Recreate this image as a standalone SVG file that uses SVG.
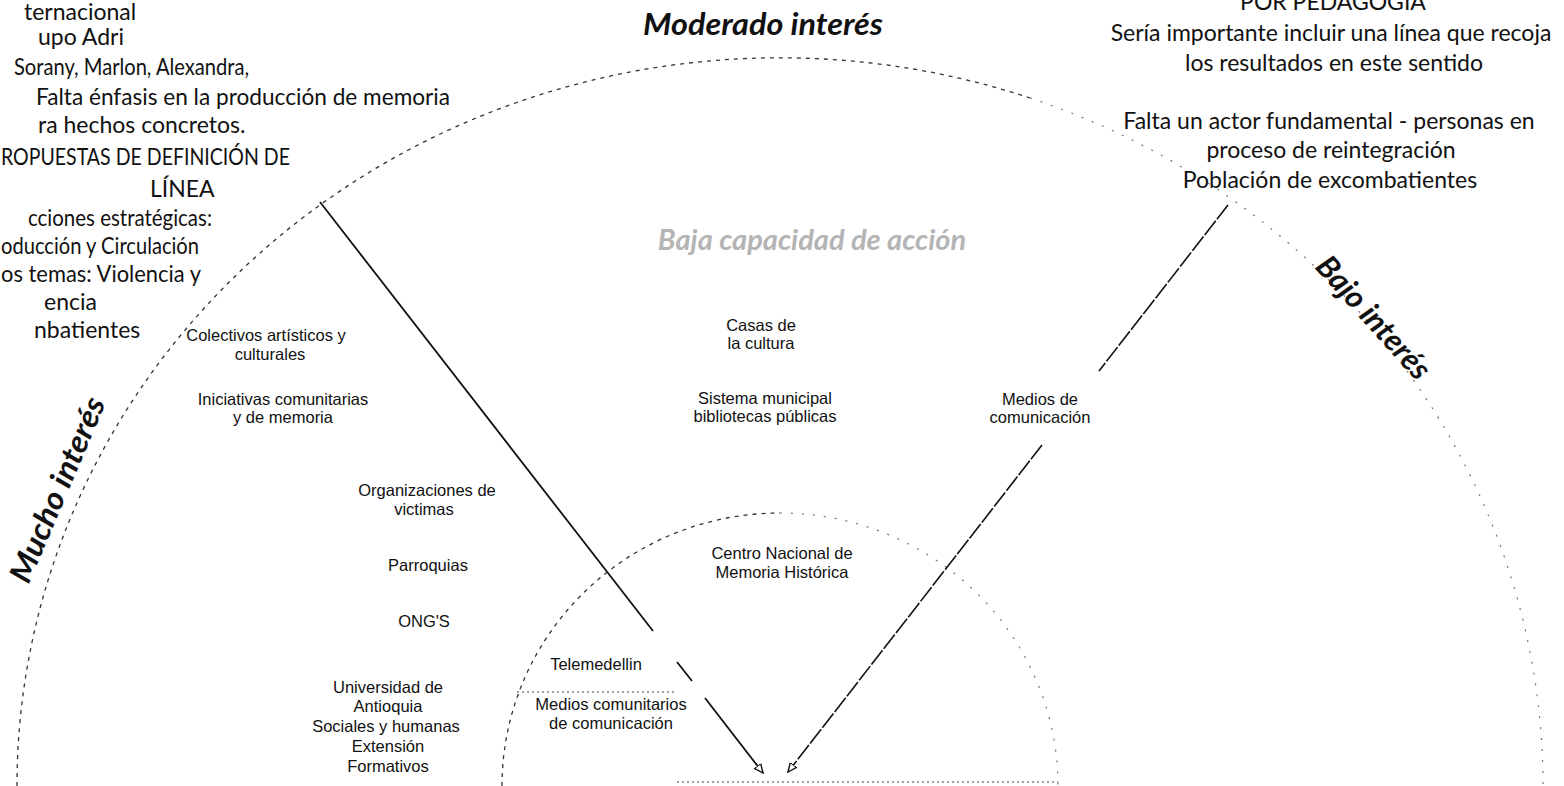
<svg xmlns="http://www.w3.org/2000/svg" width="1564" height="786" viewBox="0 0 1564 786">
<style>
.body{font-family:Lato,"Liberation Sans",sans-serif;font-size:23px;fill:#111}
.bodyc{font-family:Lato,"Liberation Sans",sans-serif;font-size:23px;fill:#111;text-anchor:middle}
.lbl{font-family:"Liberation Sans",Arial,sans-serif;font-size:16.5px;fill:#111;text-anchor:middle}
.axis{font-family:Lato,"Open Sans",sans-serif;font-size:31px;font-weight:bold;font-style:italic;fill:#111;text-anchor:middle}
.faint{font-family:Lato,"Open Sans",sans-serif;font-size:29px;font-weight:bold;font-style:italic;fill:#b4b4b4;text-anchor:middle}
.arc{fill:none;stroke:#333;stroke-width:1.3;stroke-dasharray:4 5}
.arcl{fill:none;stroke:#777;stroke-width:1.2;stroke-dasharray:2 9}
.dot{fill:none;stroke:#444;stroke-width:1.2;stroke-dasharray:2 3}
.solid{fill:none;stroke:#111;stroke-width:1.8}
.dash{fill:none;stroke:#111;stroke-width:1.6;stroke-dasharray:18 2}
</style>
<defs>
<marker id="ah" viewBox="0 0 10 10" refX="9" refY="5" markerWidth="10" markerHeight="10" markerUnits="userSpaceOnUse" orient="auto">
<path d="M0,1 L9,5 L0,9 z" fill="#fff" stroke="#111" stroke-width="1.4"/>
</marker>
</defs>
<rect width="1564" height="786" fill="#fff"/>

<g id="guides">
<path class="arc" d="M17,786 A763,728 0 0 1 1030,98"/>
<path class="arcl" d="M1030,98 A763,728 0 0 1 1543,786"/>
<path class="arc" d="M502,786 A278,273 0 0 1 780,513"/>
<path class="arcl" d="M780,513 A278,273 0 0 1 1058,786"/>
<path class="dot" d="M677,782 L1058,782"/>
<path class="dot" d="M517,692 L677,692"/>
</g>

<g id="connectors">
<path class="solid" d="M320,202 L653,631 M677,662 L692,681 M705,698 L763,773" marker-end="url(#ah)"/>
<path class="dash" d="M1228,205 L1099,371 M1042,445 L788,772" marker-end="url(#ah)"/>
</g>

<g id="note-left">
<text class="body" x="24" y="20">ternacional</text>
<text class="body" x="38" y="45">upo Adri</text>
<text class="body" x="14" y="75" textLength="235" lengthAdjust="spacingAndGlyphs">Sorany, Marlon, Alexandra,</text>
<text class="body" x="36" y="105" textLength="414" lengthAdjust="spacingAndGlyphs">Falta énfasis en la producción de memoria</text>
<text class="body" x="38" y="133">ra hechos concretos.</text>
<text class="body" x="1" y="165" textLength="289" lengthAdjust="spacingAndGlyphs">ROPUESTAS DE DEFINICIÓN DE</text>
<text class="body" x="150" y="197">LÍNEA</text>
<text class="body" x="28" y="226" textLength="184" lengthAdjust="spacingAndGlyphs">cciones estratégicas:</text>
<text class="body" x="1" y="254" textLength="198" lengthAdjust="spacingAndGlyphs">oducción y Circulación</text>
<text class="body" x="1" y="282" textLength="200" lengthAdjust="spacingAndGlyphs">os temas: Violencia y</text>
<text class="body" x="44" y="310">encia</text>
<text class="body" x="34" y="338">nbatientes</text>
</g>

<g id="note-right">
<text class="bodyc" x="1333" y="10">POR PEDAGOGÍA</text>
<text class="bodyc" x="1331" y="41">Sería importante incluir una línea que recoja</text>
<text class="bodyc" x="1334" y="71">los resultados en este sentido</text>
<text class="bodyc" x="1329" y="129">Falta un actor fundamental - personas en</text>
<text class="bodyc" x="1331" y="158">proceso de reintegración</text>
<text class="bodyc" x="1330" y="188">Población de excombatientes</text>
</g>

<g id="axis-moderado"><text class="axis" x="763" y="35" textLength="240" lengthAdjust="spacingAndGlyphs">Moderado interés</text></g>
<g id="axis-mucho"><text class="axis" transform="translate(58,490) rotate(-67)" x="0" y="10" textLength="198" lengthAdjust="spacingAndGlyphs">Mucho interés</text></g>
<g id="axis-bajo"><text class="axis" transform="translate(1373,318) rotate(48)" x="0" y="10">Bajo interés</text></g>
<g id="axis-baja-capacidad"><text class="faint" x="812" y="250">Baja capacidad de acción</text></g>

<g id="n-colectivos"><text class="lbl" x="266" y="341">Colectivos artísticos y</text><text class="lbl" x="270" y="360">culturales</text></g>
<g id="n-iniciativas"><text class="lbl" x="283" y="405">Iniciativas comunitarias</text><text class="lbl" x="283" y="423">y de memoria</text></g>
<g id="n-casas"><text class="lbl" x="761" y="331">Casas de</text><text class="lbl" x="761" y="349">la cultura</text></g>
<g id="n-sistema"><text class="lbl" x="765" y="404">Sistema municipal</text><text class="lbl" x="765" y="422">bibliotecas públicas</text></g>
<g id="n-medios"><text class="lbl" x="1040" y="405">Medios de</text><text class="lbl" x="1040" y="423">comunicación</text></g>
<g id="n-organizaciones"><text class="lbl" x="427" y="496">Organizaciones de</text><text class="lbl" x="424" y="515">victimas</text></g>
<g id="n-parroquias"><text class="lbl" x="428" y="571">Parroquias</text></g>
<g id="n-ongs"><text class="lbl" x="424" y="627">ONG'S</text></g>
<g id="n-cnmh"><text class="lbl" x="782" y="559">Centro Nacional de</text><text class="lbl" x="782" y="578">Memoria Histórica</text></g>
<g id="n-telemedellin"><text class="lbl" x="596" y="670">Telemedellin</text></g>
<g id="n-medios-com"><text class="lbl" x="611" y="710">Medios comunitarios</text><text class="lbl" x="611" y="729">de comunicación</text></g>
<g id="n-udea"><text class="lbl" x="388" y="693">Universidad de</text><text class="lbl" x="388" y="712">Antioquia</text><text class="lbl" x="386" y="732">Sociales y humanas</text><text class="lbl" x="388" y="752">Extensión</text><text class="lbl" x="388" y="772">Formativos</text></g>
</svg>
